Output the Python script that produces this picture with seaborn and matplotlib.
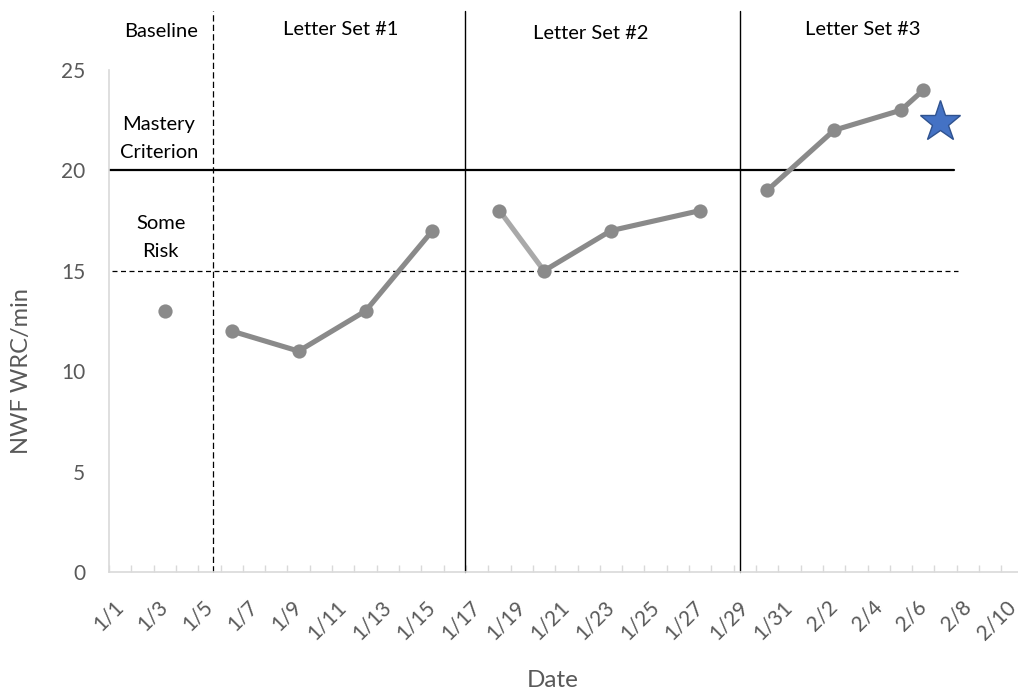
import matplotlib
matplotlib.use("Agg")
import numpy as np
import pandas as pd
import matplotlib.pyplot as plt
import seaborn as sns
from matplotlib.ticker import FixedLocator

# Nonsense-word fluency (whole real words read correctly per minute)
baseline_dates = ["1/3"]
baseline_wrc = [13]
set1_dates = ["1/6", "1/9", "1/12", "1/15"]
set1_wrc = [12, 11, 13, 17]
set2_dates = ["1/18", "1/20", "1/23", "1/27"]
set2_wrc = [18, 15, 17, 18]
set3_dates = ["1/30", "2/2", "2/5", "2/6"]
set3_wrc = [19, 22, 23, 24]

phase_labels = ["Baseline", "Letter Set #1", "Letter Set #2", "Letter Set #3"]
mastery_criterion = 20
some_risk = 15
tick_dates = ["1/1", "1/3", "1/5", "1/7", "1/9", "1/11", "1/13", "1/15", "1/17",
              "1/19", "1/21", "1/23", "1/25", "1/27", "1/29", "1/31", "2/2",
              "2/4", "2/6", "2/8", "2/10"]
y_ticks = [0, 5, 10, 15, 20, 25]

START = pd.Timestamp(2021, 1, 1)


def day_of(md):
    m, d = (int(v) for v in md.split("/"))
    return (pd.Timestamp(2021, m, d) - START).days


def frame(dates, values):
    return pd.DataFrame({"day": [day_of(s) for s in dates], "wrc": values})


DARK = "#8a8a8a"
LIGHT = "#a9a9a9"
TEXT = "#595959"
AXIS = "#d9d9d9"

sns.set_theme(style="white")
plt.rcParams["font.family"] = ["Lato", "DejaVu Sans"]

fig, ax = plt.subplots(figsize=(10.18, 6.95), dpi=100)
fig.subplots_adjust(left=109 / 1018, right=1.0, bottom=123 / 695, top=625 / 695)

base = frame(baseline_dates, baseline_wrc)
s1 = frame(set1_dates, set1_wrc)
s2 = frame(set2_dates, set2_wrc)
s3 = frame(set3_dates, set3_wrc)

line_kw = dict(estimator=None, sort=False, linewidth=3.7, legend=False, ax=ax, zorder=3)
sns.lineplot(data=s1, x="day", y="wrc", color=DARK, **line_kw)
sns.lineplot(data=s2.iloc[:2], x="day", y="wrc", color=LIGHT, **line_kw)
sns.lineplot(data=s2.iloc[1:], x="day", y="wrc", color=DARK, **line_kw)
sns.lineplot(data=s3, x="day", y="wrc", color=DARK, **line_kw)

points = pd.concat([base, s1, s2, s3], ignore_index=True)
sns.scatterplot(data=points, x="day", y="wrc", color=DARK, s=105, linewidth=0,
                legend=False, ax=ax, zorder=4)

# goal star beside the final probe
star_day, star_value = 36.74, 22.43
ax.plot([star_day], [star_value], marker="*", markersize=31, color="#4472c4",
        markeredgecolor="#2f528f", markeredgewidth=1.0, zorder=5, clip_on=False)

# benchmark lines
ax.plot([-0.5, 37.36], [mastery_criterion] * 2, color="black", lw=1.6, zorder=2)
ax.plot([-0.35, 37.54], [some_risk] * 2, color="black", lw=0.9,
        linestyle=(0, (4.0, 2.8)), zorder=2)

# phase change lines
top = 27.95
ax.plot([4.15, 4.15], [0, top], color="black", lw=0.9, linestyle=(0, (5.0, 2.6)),
        clip_on=False, zorder=2)
for xb in (15.45, 27.78):
    ax.plot([xb, xb], [0, top], color="black", lw=1.0, clip_on=False, zorder=2)

# phase headings and benchmark captions
label_y = [26.9, 27.0, 26.84, 27.04]
label_x = [1.82, 9.89, 21.09, 33.28]
for lx, ly, name in zip(label_x, label_y, phase_labels):
    ax.text(lx, ly, name, ha="center", va="center", fontsize=14.5, color="black",
            clip_on=False)
ax.text(1.73, 21.6, "Mastery\nCriterion", ha="center", va="center", fontsize=14.5,
        color="black", linespacing=1.78)
ax.text(1.82, 16.68, "Some\nRisk", ha="center", va="center", fontsize=14.5,
        color="black", linespacing=1.78)

# axes
ax.set_xlim(-0.5, -0.5 + 909 / 22.31)
ax.set_ylim(0, 25)
ax.set_yticks(y_ticks)
ax.set_yticklabels([str(v) for v in y_ticks])
ax.set_xticks([day_of(s) for s in tick_dates])
ax.set_xticklabels(tick_dates, rotation=45, ha="right", va="center",
                   rotation_mode="anchor")
ax.xaxis.set_minor_locator(FixedLocator(np.arange(-0.5, 40.0, 1.0)))
ax.tick_params(axis="x", which="major", length=0, pad=23, labelsize=15, labelcolor=TEXT)
ax.tick_params(axis="x", which="minor", length=5, width=1.0, color=AXIS,
               direction="in", bottom=True)
ax.tick_params(axis="y", length=0, pad=17, labelsize=15, labelcolor=TEXT)

for side in ("top", "right"):
    ax.spines[side].set_visible(False)
for side in ("left", "bottom"):
    ax.spines[side].set_color(AXIS)
    ax.spines[side].set_linewidth(1.2)

ax.set_xlabel("Date", fontsize=17.5, color=TEXT)
ax.set_ylabel("NWF WRC/min", fontsize=17, color=TEXT)
ax.xaxis.set_label_coords((553 - 109) / 909, (572 - 670) / 502)
ax.yaxis.set_label_coords((32 - 109) / 909, (572 - 371) / 502)
ax.grid(False)

fig.savefig("out.png", dpi=100)
